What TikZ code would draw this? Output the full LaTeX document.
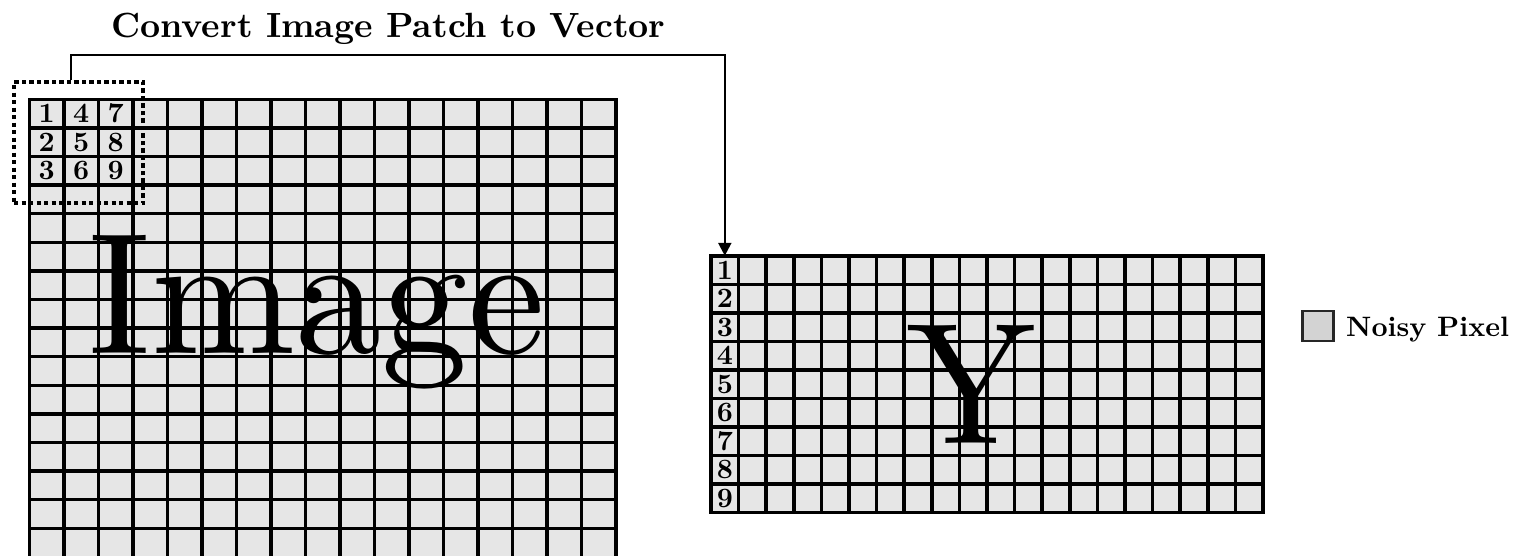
\documentclass[tikz,border=0pt]{standalone}
\usetikzlibrary{arrows.meta}
\definecolor{cellgray}{HTML}{E6E6E6}
\definecolor{noisegray}{HTML}{D3D3D3}
\begin{document}
\begin{tikzpicture}[x=1pt,y=-1pt,
  gridline/.style={line width=3.5pt, line cap=rect},
  digit/.style={font=\fontsize{10}{12}\selectfont\bfseries, inner sep=0pt},
  bigtext/.style={font=\fontsize{10}{12}\selectfont, inner sep=0pt},
  titletext/.style={font=\fontsize{10}{12}\selectfont\bfseries, inner sep=0pt},
  legendtext/.style={font=\fontsize{10}{12}\selectfont\bfseries, inner sep=0pt},
  patchbox/.style={draw, line width=4pt, dash pattern=on 4.2pt off 3.3pt, minimum width=129.3pt, minimum height=121pt, inner sep=0pt},
  ybox/.style={fill=cellgray, minimum width=552pt, minimum height=256.5pt, inner sep=0pt},
  legendbox/.style={draw=black!85, fill=noisegray, line width=2.2pt, minimum width=31pt, minimum height=30pt, inner sep=0pt},
  conn/.style={line width=2.2pt, -{Triangle[width=13pt,length=13pt]}}
]
\useasboundingbox (0,0) rectangle (1514,556);
\clip (0,0) rectangle (1514,556);

% title
\node[titletext, anchor=base] (title) at (388.4,37.3) {\scalebox{3.5}{Convert Image Patch to Vector}};

% left image grid
\fill[cellgray] (29.5,99.3) rectangle (616,570);
\foreach \i in {0,...,17} \draw[gridline] ({29.5+\i*34.5},99.3) -- ({29.5+\i*34.5},570);
\foreach \j in {0,...,15} \draw[gridline] (29.5,{99.3+\j*28.6}) -- (616,{99.3+\j*28.6});
\foreach \c in {0,1,2} {
  \foreach \r in {0,1,2} {
    \pgfmathtruncatemacro\n{\c*3+\r+1}
    \node[digit] (p\n) at ({29.5+(\c+0.5)*34.5},{99.3+(\r+0.5)*28.6}) {\scalebox{2.8}{\n}};
  }
}
\node[bigtext, anchor=base west] (imgtxt) at (88.5,353.3) {\scalebox{17.3}{Image}};

% patch
\node[patchbox] (patch) at (78.7,142.8) {};

% Y grid
\node[ybox] (ygrid) at (987,384.25) {};
\foreach \i in {0,...,20} \draw[gridline] ({711+\i*27.6},256) -- ({711+\i*27.6},512.5);
\foreach \j in {0,...,9} \draw[gridline] (711,{256+\j*28.5}) -- (1263,{256+\j*28.5});
\foreach \r in {1,...,9} \node[digit] (y\r) at (724.8,{256+(\r-0.5)*28.5}) {\scalebox{2.8}{\r}};
\node[bigtext, anchor=base] (ytxt) at (971,443.3) {\scalebox{17.3}{Y}};

% connector
\coordinate (bend) at (71,55);
\draw[conn] (bend |- patch.north) -- (bend) -| (y1 |- ygrid.north);

% legend
\node[legendbox] (leg) at (1318,326) {};
\node[legendtext, anchor=base west] (legtxt) at (1346,336) {\scalebox{2.81}{Noisy Pixel}};
\end{tikzpicture}
\end{document}
